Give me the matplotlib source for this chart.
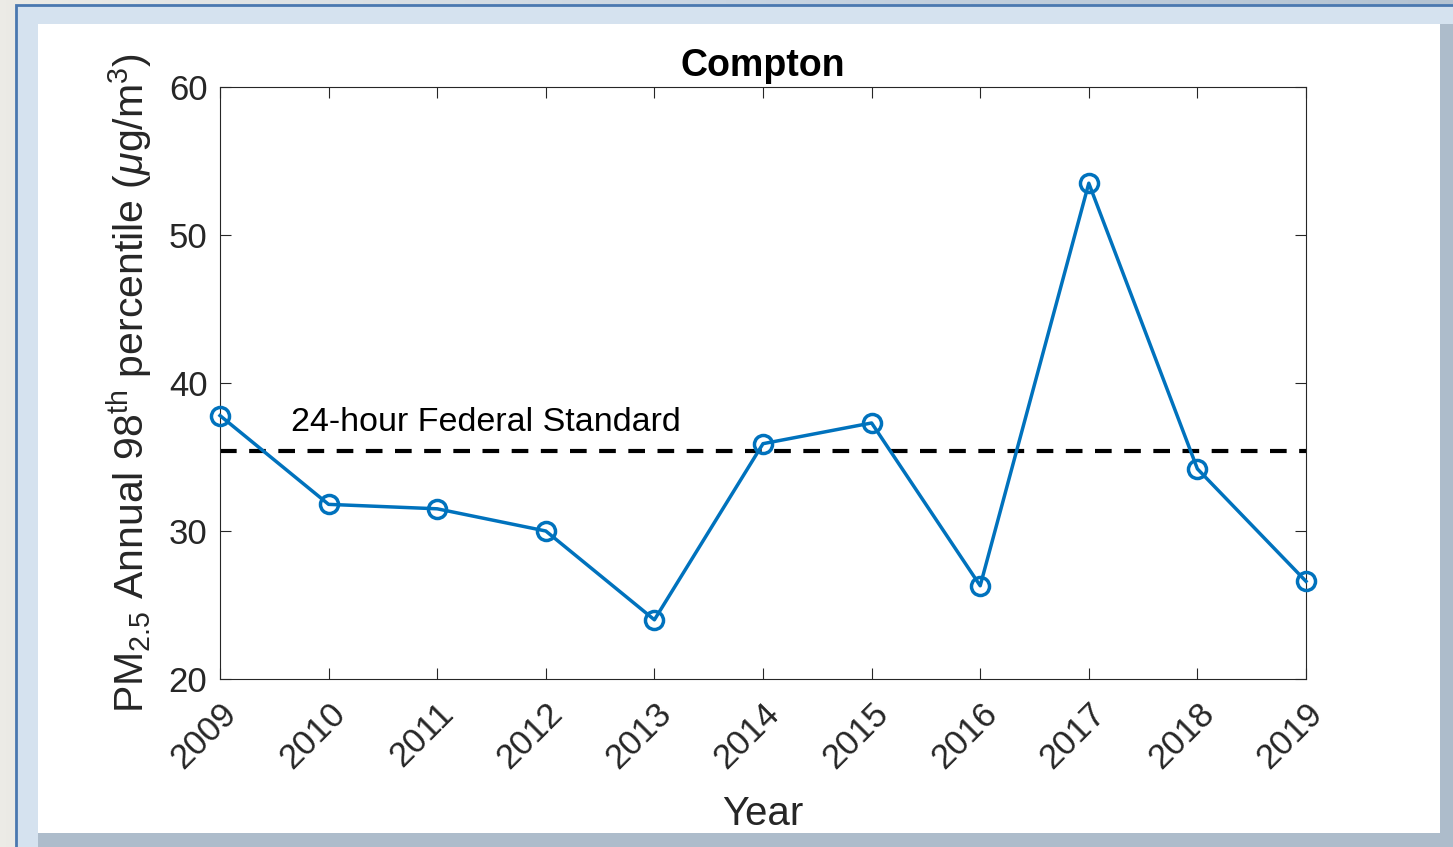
import numpy as np
import matplotlib.pyplot as plt
from matplotlib.patches import Rectangle

plt.rcParams['font.family'] = ['Liberation Sans', 'DejaVu Sans']
plt.rcParams['mathtext.fontset'] = 'custom'
plt.rcParams['mathtext.rm'] = 'Liberation Sans'
plt.rcParams['mathtext.it'] = 'Liberation Sans:italic'

years = [2009, 2010, 2011, 2012, 2013, 2014, 2015, 2016, 2017, 2018, 2019]
pm25 = [37.8, 31.8, 31.5, 30.0, 24.0, 35.9, 37.3, 26.3, 53.5, 34.2, 26.6]
standard = 35.4
std_label = '24-hour Federal Standard'

fig = plt.figure(figsize=(14.53, 8.47), dpi=100)
fig.patch.set_facecolor('#b8c6d4')

# slide-like background: gradient, blue frame, white panel
bg = fig.add_axes([0, 0, 1, 1], zorder=-10)
grad = np.linspace(0, 1, 256)[None, :]
bg.imshow(grad, aspect='auto', cmap=plt.cm.colors.LinearSegmentedColormap.from_list(
    'bg', ['#ecebe6', '#c9d5e2', '#b4c3d2']), extent=[0, 1, 0, 1])
bg.add_patch(Rectangle((16/1453, -0.01), 1.02, 1 - 5/847 + 0.01, facecolor='#d5e2ef',
                       edgecolor='#4a78b0', lw=2))
# darker shaded band on the right and bottom
bg.add_patch(Rectangle((38/1453, 0), 1 - 38/1453, 14/847, facecolor='#adbccb',
                       edgecolor='none'))
bg.add_patch(Rectangle((1440/1453, 0), 13/1453, 1 - 38/847 + 14/847, facecolor='#adbccb',
                       edgecolor='none'))
bg.add_patch(Rectangle((38/1453, 14/847), 1402/1453, 1 - 38/847, facecolor='white',
                       edgecolor='none'))
bg.set_xlim(0, 1)
bg.set_ylim(0, 1)
bg.axis('off')

ax = fig.add_axes([220/1453, 1 - 679/847, 1086/1453, 592/847])
ax.plot(years, pm25, '-o', color='#0072BD', lw=2.5, ms=13, mfc='none', mew=2.5,
        clip_on=False, zorder=3)
ax.axhline(standard, color='black', ls=(0, (4, 3)), lw=3, zorder=2)
ax.text(2009.65, 37.35, std_label, fontsize=24.5, va='center')

ax.set_xlim(2009, 2019)
ax.set_ylim(20, 60)
ax.set_xticks(years)
ax.set_xticklabels([str(y) for y in years], rotation=45, ha='right',
                   rotation_mode='anchor')
ax.set_yticks([20, 30, 40, 50, 60])
ax.tick_params(direction='in', top=True, right=True, labelsize=25, length=8,
               width=0.8, colors='#262626', pad=9)
ax.tick_params(axis='x', pad=13)
for s in ax.spines.values():
    s.set_color('#262626')
    s.set_linewidth(0.8)

ax.set_title('Compton', fontsize=27, fontweight='bold', pad=8)
ax.set_xlabel('Year', fontsize=29, color='#262626', labelpad=14)
ax.set_ylabel(r'PM$_{2.5}$ Annual 98$^{\mathrm{th}}$ percentile ($\mu$g/m$^3$)',
              fontsize=29.5, color='#262626', labelpad=10)

fig.savefig('out.png', dpi=100)
